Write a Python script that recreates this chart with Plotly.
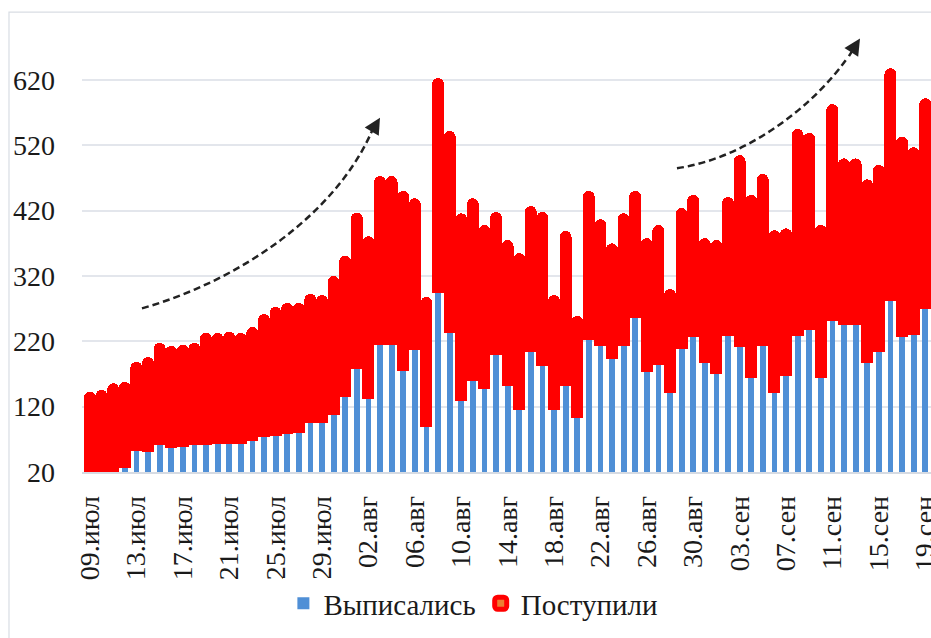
import plotly.graph_objects as go
import pandas as pd

# ---- data -------------------------------------------------------------
MONTHS = {7: "июл", 8: "авг", 9: "сен"}
dates = pd.date_range("2020-07-09", "2020-09-19", freq="D")
date_labels = [f"{d.day:02d}.{MONTHS[d.month]}" for d in dates]

discharged = [22, 20, 23, 31, 57, 55, 66, 61, 63, 66,
              66, 68, 68, 68, 72, 78, 80, 83, 84, 100,
              100, 112, 139, 182, 136, 219, 219, 180, 211, 93,
              299, 237, 134, 164, 152, 204, 157, 119, 209, 187,
              119, 157, 107, 226, 218, 197, 218, 261, 177, 189,
              146, 213, 231, 192, 175, 233, 216, 169, 218, 146,
              172, 233, 242, 169, 256, 250, 250, 191, 208, 286,
              231, 235, 274]

admitted = [116, 121, 128, 122, 127, 136, 147, 147, 147, 147,
            162, 160, 162, 160, 165, 179, 188, 191, 190, 188,
            186, 203, 207, 230, 240, 249, 249, 265, 223, 190,
            319, 300, 277, 270, 241, 209, 213, 231, 213, 226,
            167, 227, 147, 219, 184, 168, 193, 184, 196, 204,
            149, 206, 208, 181, 195, 203, 284, 270, 253, 239,
            216, 307, 292, 224, 322, 245, 245, 272, 277, 347,
            297, 277, 313]

y_ticks = [20, 120, 220, 320, 420, 520, 620]
tick_every = 4

x = list(range(len(dates)))
tickvals = x[::tick_every]
ticktext = date_labels[::tick_every]

FONT = "Liberation Serif"
TXT = "#1a1a1a"

fig = go.Figure()
fig.add_trace(go.Bar(
    x=x, y=discharged, name="Выписались", width=0.5,
    marker=dict(color="#4f8fd6", line=dict(width=0)),
))
fig.add_trace(go.Bar(
    x=x, y=admitted, name="Поступили", width=0.5,
    marker=dict(color="#ed7d31", line=dict(color="#ff0000", width=6.2),
                cornerradius=3),
))

# decorative dashed trend arrows
dash_line = dict(color="#222222", width=2.5, dash="7px,4px")
fig.add_shape(type="path", xref="x", yref="y",
              path="M 4.48,270.3 C 12.93,313.1 20.95,412.6 24.14,535.1",
              line=dash_line, layer="above")
fig.add_shape(type="path", xref="x", yref="y",
              path="M 50.6,484.6 C 56.47,499.9 62.24,576.4 65.34,654.5",
              line=dash_line, layer="above")
fig.add_annotation(x=25.0, y=562, xref="x", yref="y", text="",
                   showarrow=True, arrowhead=2, arrowsize=1.3, arrowwidth=2.5,
                   arrowcolor="#222222", ax=-10, ay=17)
fig.add_annotation(x=66.38, y=683, xref="x", yref="y", text="",
                   showarrow=True, arrowhead=2, arrowsize=1.3, arrowwidth=2.5,
                   arrowcolor="#222222", ax=-12, ay=19)

# outer chart border
fig.add_shape(type="rect", xref="paper", yref="paper",
              x0=-0.086, x1=1.2, y0=-0.6, y1=1.050,
              line=dict(color="#d9dde4", width=1.2), layer="below")

fig.update_layout(
    width=931, height=638,
    margin=dict(l=82, r=0, t=34, b=166),
    barmode="stack",
    plot_bgcolor="white", paper_bgcolor="white",
    font=dict(family=FONT, size=28, color=TXT),
    showlegend=True,
    legend=dict(orientation="h", x=0.461, xanchor="center", y=-0.30,
                yanchor="middle", traceorder="normal", itemwidth=30,
                font=dict(family=FONT, size=29, color=TXT)),
    xaxis=dict(range=[-0.69, 72.5], tickmode="array", tickvals=tickvals,
               ticktext=ticktext, tickangle=-90, showgrid=False,
               showline=True, linecolor="#d6dbe3", linewidth=1.5,
               zeroline=False, automargin=False, ticks="",
               ticklabelstandoff=11, ticklabeloverflow="allow"),
    yaxis=dict(range=[20, 690], tickmode="array", tickvals=y_ticks,
               showgrid=True, gridcolor="#e3e6ec", gridwidth=1.5,
               zeroline=False, showline=False, automargin=False,
               ticks="", ticklabelstandoff=26),
)

fig.write_html(
    "out.html",
    config={"displayModeBar": False},
    post_script="document.body.style.margin='0';"
                "document.body.style.overflow='hidden';",
)
